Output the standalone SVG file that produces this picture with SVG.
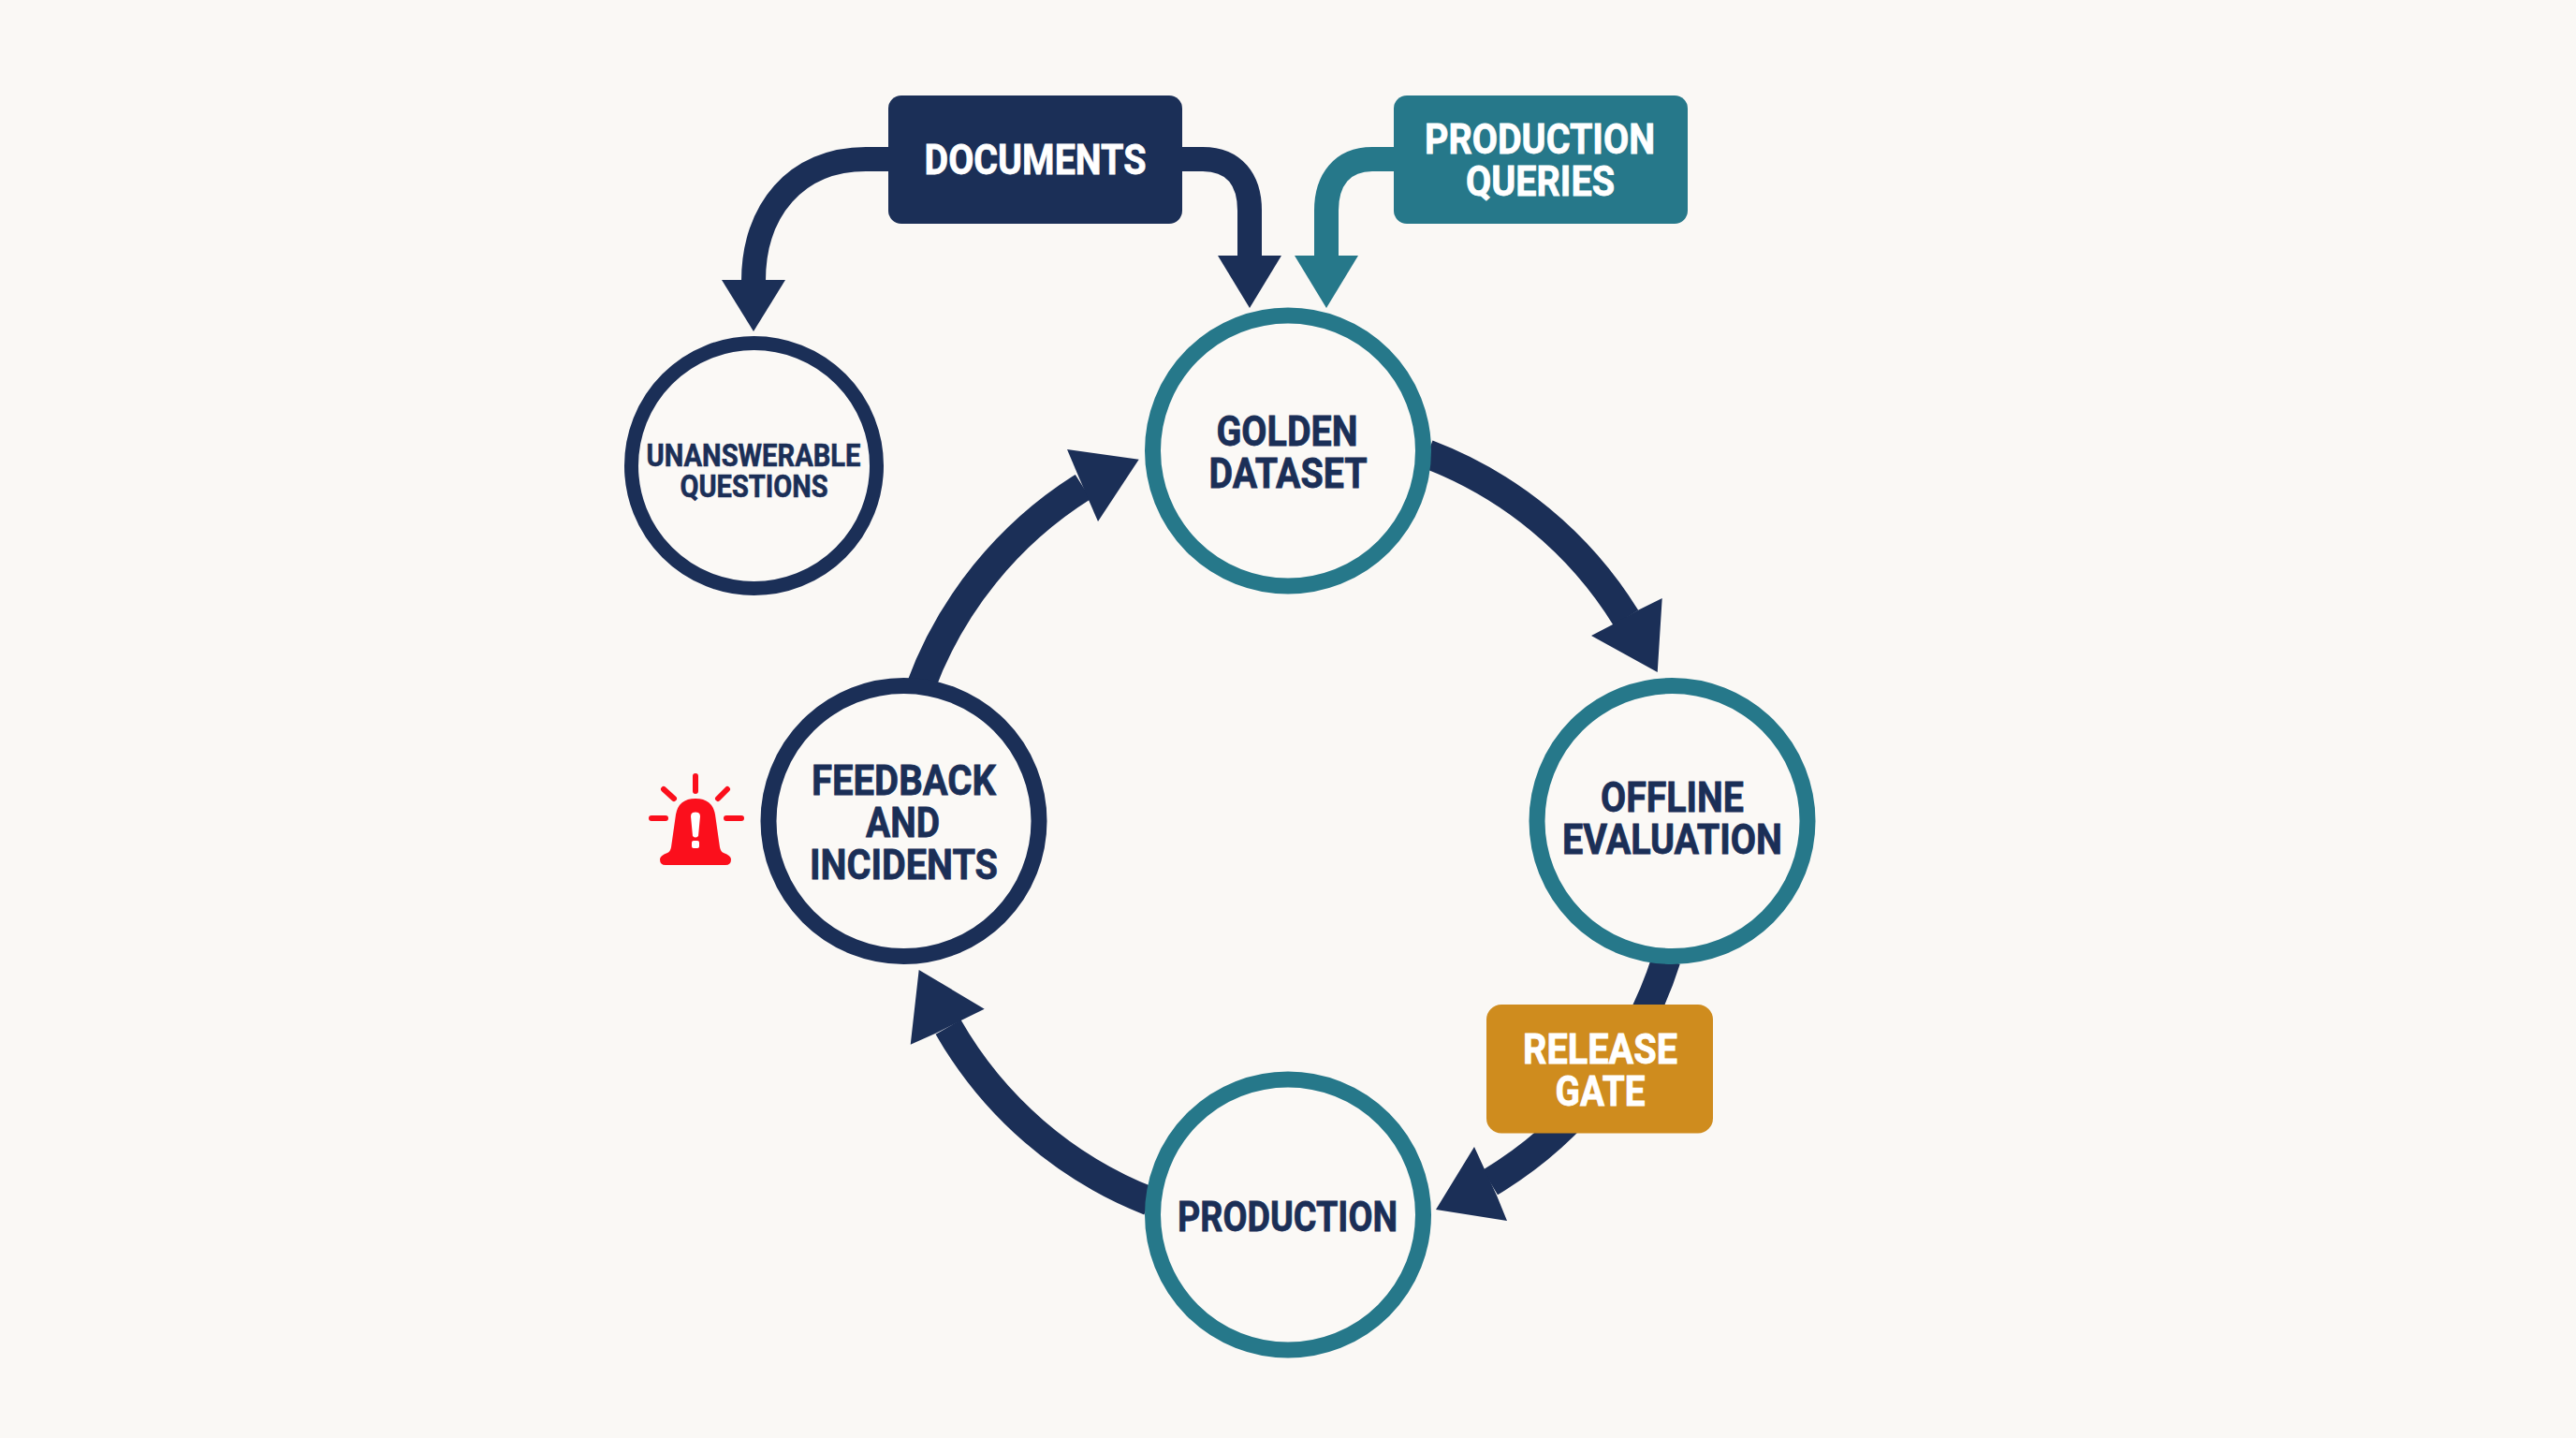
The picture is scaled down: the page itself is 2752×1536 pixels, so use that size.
<svg xmlns="http://www.w3.org/2000/svg" width="2752" height="1536" viewBox="0 0 2752 1536">
<style>
.flow{fill:none;stroke:#1b2f57;stroke-width:31}
.feed{fill:none;stroke:#1b2f57;stroke-width:26}
.feedt{fill:none;stroke:#26788a;stroke-width:26}
.hd{fill:#1b2f57}
.hdt{fill:#26788a}
.ct{fill:#fbf9f6;stroke:#26788a;stroke-width:17}
.cn{fill:#fbf9f6;stroke:#1b2f57;stroke-width:17}
text{font-family:"Roboto","Liberation Sans",sans-serif;font-weight:700;text-anchor:middle}
.d{fill:#1b2f57;stroke:#1b2f57;stroke-width:.8;font-size:45px}
.w{fill:#ffffff;stroke:#ffffff;stroke-width:.8;font-size:45px}
.s{fill:#1b2f57;stroke:#1b2f57;stroke-width:.6;font-size:33px}
.ray{stroke:#fb0f1c;stroke-width:6;stroke-linecap:round;fill:none}
</style>
<rect width="2752" height="1536" fill="#faf8f5"/>
<g id="connectors">
<path class="feed" d="M950 170H925C850 170 805 225 805 300"/>
<polygon class="hd" points="771,299 839,299 805,354"/>
<path class="feed" d="M1263 170H1285C1318 170 1335 192 1335 225V275"/>
<polygon class="hd" points="1301,273 1369,273 1335,329"/>
<path class="feedt" d="M1489 170H1466C1434 170 1417 192 1417 225V275"/>
<polygon class="hdt" points="1383,273 1451,273 1417,329"/>
<path class="flow" d="M1525 485A428 428 0 0 1 1737 660"/>
<polygon class="hd" points="1775.7,639 1750,651.7 1723,667 1700,679 1770.7,718"/>
<path class="flow" d="M1780 1025A428 428 0 0 1 1592 1263"/>
<polygon class="hd" points="1575,1225 1586,1249 1599,1277 1610,1304 1534,1292"/>
<path class="flow" d="M1228 1283A428 428 0 0 1 1013 1097"/>
<polygon class="hd" points="1051.7,1077.7 1026.7,1090 999,1104 972.7,1115.7 981.7,1036"/>
<path class="flow" d="M983 735A428 428 0 0 1 1157 520"/>
<polygon class="hd" points="1140,480 1151,506 1163,534 1173,557 1216.7,490.7"/>
</g>
<g id="documents">
<rect x="949" y="102" width="314" height="137" rx="14" fill="#1b2f57"/>
<text class="w" x="1106" y="186" textLength="237" lengthAdjust="spacingAndGlyphs">DOCUMENTS</text>
</g>
<g id="production-queries">
<rect x="1489" y="102" width="314" height="137" rx="14" fill="#26788a"/>
<text class="w" x="1645" y="164" textLength="246" lengthAdjust="spacingAndGlyphs">PRODUCTION</text>
<text class="w" x="1645.5" y="209" textLength="159" lengthAdjust="spacingAndGlyphs">QUERIES</text>
</g>
<g id="unanswerable-questions">
<circle class="cn" cx="805.5" cy="497.5" r="131" style="stroke-width:15"/>
<text class="s" x="805" y="498" textLength="229" lengthAdjust="spacingAndGlyphs">UNANSWERABLE</text>
<text class="s" x="805.5" y="531" textLength="158" lengthAdjust="spacingAndGlyphs">QUESTIONS</text>
</g>
<g id="golden-dataset">
<circle class="ct" cx="1376" cy="481.5" r="144.5"/>
<text class="d" x="1375" y="476" textLength="151" lengthAdjust="spacingAndGlyphs">GOLDEN</text>
<text class="d" x="1376" y="521" textLength="169" lengthAdjust="spacingAndGlyphs">DATASET</text>
</g>
<g id="offline-evaluation">
<circle class="ct" cx="1786.5" cy="877" r="144.5"/>
<text class="d" x="1786.5" y="867" textLength="153" lengthAdjust="spacingAndGlyphs">OFFLINE</text>
<text class="d" x="1786.5" y="912" textLength="235" lengthAdjust="spacingAndGlyphs">EVALUATION</text>
</g>
<g id="release-gate">
<rect x="1588" y="1073" width="242" height="137.500" rx="16" fill="#cf8c1e"/>
<text class="w" x="1709.500" y="1136" textLength="165" lengthAdjust="spacingAndGlyphs">RELEASE</text>
<text class="w" x="1709.500" y="1181" textLength="96" lengthAdjust="spacingAndGlyphs">GATE</text>
</g>
<g id="production">
<circle class="ct" cx="1376" cy="1297.5" r="144.5"/>
<text class="d" x="1375.500" y="1315" textLength="235" lengthAdjust="spacingAndGlyphs">PRODUCTION</text>
</g>
<g id="feedback-and-incidents">
<circle class="cn" cx="965.500" cy="877" r="144.5"/>
<text class="d" x="965.500" y="849" textLength="197" lengthAdjust="spacingAndGlyphs">FEEDBACK</text>
<text class="d" x="964.500" y="894" textLength="79" lengthAdjust="spacingAndGlyphs">AND</text>
<text class="d" x="965.500" y="939" textLength="201" lengthAdjust="spacingAndGlyphs">INCIDENTS</text>
</g>
<g id="alarm-icon">
<path class="ray" d="M743 829V845M709 843L720 853M777 843L767 853M696 874H711M776 874H792"/>
<path fill="#fb0f1c" d="M711 924Q705 924 705 918Q705 914 713 911Q716 910 717 905L722 870Q725 853 743 853Q761 853 764 870L769 905Q770 910 773 911Q781 914 781 918Q781 924 775 924Z"/>
<path fill="#ffffff" d="M740 868Q743 867 746 868Q748 869 748 872L746 893Q743 896 740 893L738 872Q738 869 740 868Z"/>
<rect x="739" y="898" width="8" height="8" rx="2" fill="#ffffff"/>
</g>
</svg>
